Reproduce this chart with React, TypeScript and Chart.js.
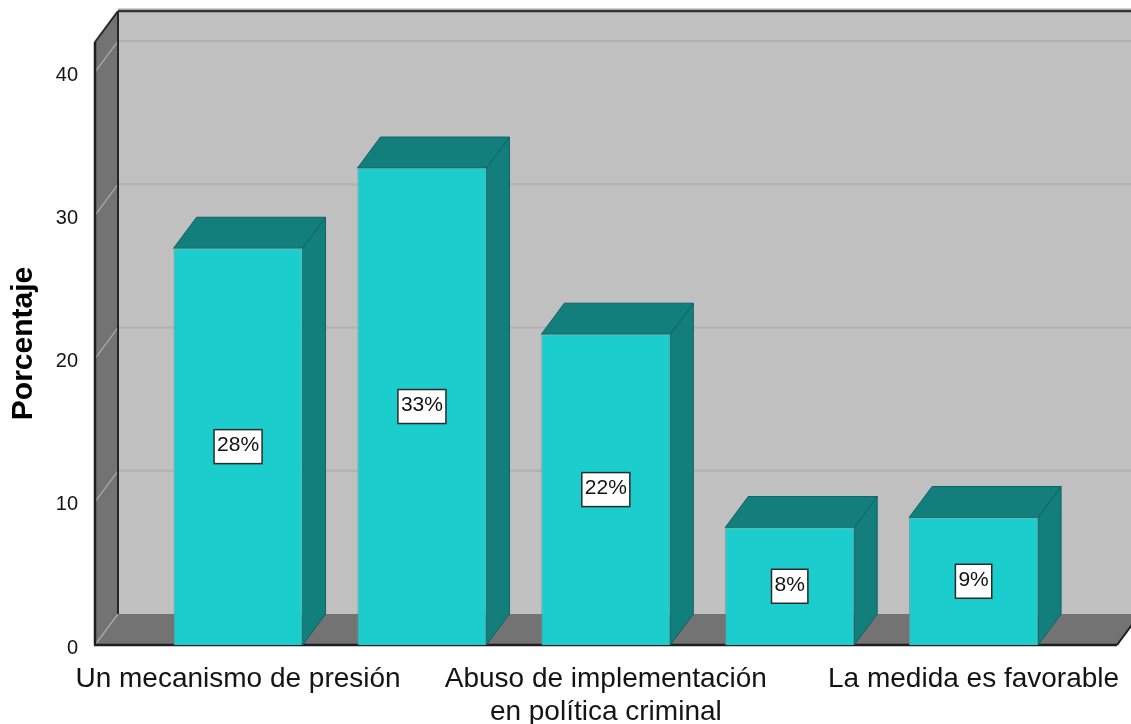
import React, { useEffect, useRef } from "react";
import { Chart, registerables } from "chart.js";

Chart.register(...registerables);

// ---- data ----
const categories: string[] = [
  "Un mecanismo de presión",
  "",
  "Abuso de implementación\nen política criminal",
  "",
  "La medida es favorable",
];
const percentages: number[] = [27.7, 33.3, 21.7, 8.2, 8.9];
const yTicks: number[] = [0, 10, 20, 30, 40];
const yAxisTitle = "Porcentaje";
const yMax = 42.1;
const xMin = -0.778;
const xMax = 4.78;

// ---- style ----
const FONT = "'Liberation Sans', Arial, Helvetica, sans-serif";
const DX = 23;
const DY = 31;
const FRONT = "#1ccdcd";
const DEPTH = "#127f7d";
const BACK = "#c0c0c0";
const WALL = "#737373";

function poly(ctx: CanvasRenderingContext2D, pts: number[][], fill?: string, stroke?: string, lw = 1) {
  ctx.beginPath();
  ctx.moveTo(pts[0][0], pts[0][1]);
  for (let i = 1; i < pts.length; i++) ctx.lineTo(pts[i][0], pts[i][1]);
  ctx.closePath();
  if (fill) {
    ctx.fillStyle = fill;
    ctx.fill();
  }
  if (stroke) {
    ctx.strokeStyle = stroke;
    ctx.lineWidth = lw;
    ctx.stroke();
  }
}

function line(ctx: CanvasRenderingContext2D, x1: number, y1: number, x2: number, y2: number, color: string, lw: number) {
  ctx.beginPath();
  ctx.moveTo(x1, y1);
  ctx.lineTo(x2, y2);
  ctx.strokeStyle = color;
  ctx.lineWidth = lw;
  ctx.stroke();
}

const threeD = {
  id: "threeD",
  beforeDatasetsDraw(chart: any) {
    const { ctx, chartArea: a } = chart;
    const ys = chart.scales.y;
    ctx.save();
    // back wall
    ctx.fillStyle = BACK;
    ctx.fillRect(a.left + DX, a.top - DY, a.right - a.left, a.bottom - a.top);
    yTicks.forEach((v) => {
      if (v === 0) return;
      const py = ys.getPixelForValue(v) - DY;
      line(ctx, a.left + DX, py, a.right + DX, py, "#b1b1b1", 2);
    });
    // left wall
    poly(ctx, [
      [a.left, a.top],
      [a.left + DX, a.top - DY],
      [a.left + DX, a.bottom - DY],
      [a.left, a.bottom],
    ], WALL);
    // floor
    poly(ctx, [
      [a.left, a.bottom],
      [a.left + DX, a.bottom - DY],
      [a.right + DX, a.bottom - DY],
      [a.right, a.bottom],
    ], WALL);
    // left wall grid diagonals
    yTicks.forEach((v) => {
      const py = ys.getPixelForValue(v);
      line(ctx, a.left, py, a.left + DX, py - DY, "#a9a9a9", 1.3);
    });
    // edges
    line(ctx, a.left + DX, a.top - DY - 2, a.right + DX + 5, a.top - DY - 2, "#a0a0a0", 1);
    line(ctx, a.left + DX, a.top - DY, a.right + DX + 5, a.top - DY, "#333333", 2.5);
    line(ctx, a.left + DX, a.top - DY, a.left + DX, a.bottom - DY, "#262626", 2);
    line(ctx, a.left, a.top, a.left + DX, a.top - DY, "#262626", 2);
    line(ctx, a.left, a.top, a.left, a.bottom, "#1e1e1e", 2.5);
    line(ctx, a.left - 1, a.bottom, a.right, a.bottom, "#1e1e1e", 2.5);
    line(ctx, a.right, a.bottom, a.right + DX, a.bottom - DY, "#1e1e1e", 2);

    // bar depth faces
    const meta = chart.getDatasetMeta(0);
    meta.data.forEach((bar: any) => {
      const { x, y, base, width } = bar.getProps(["x", "y", "base", "width"], true);
      const l = x - width / 2;
      const r = x + width / 2;
      poly(ctx, [
        [r, y],
        [r + DX, y - DY],
        [r + DX, base - DY],
        [r, base],
      ], DEPTH, "#0d6463", 1);
      poly(ctx, [
        [l, y],
        [l + DX, y - DY],
        [r + DX, y - DY],
        [r, y],
      ], DEPTH, "#0d6463", 1);
    });
    ctx.restore();
  },
  afterDatasetsDraw(chart: any) {
    const { ctx } = chart;
    const meta = chart.getDatasetMeta(0);
    ctx.save();
    ctx.font = `21px ${FONT}`;
    ctx.textAlign = "center";
    ctx.textBaseline = "middle";
    meta.data.forEach((bar: any, i: number) => {
      const { x, y, base } = bar.getProps(["x", "y", "base"], true);
      const cy = (y + base) / 2;
      const txt = `${Math.round(percentages[i])}%`;
      const w = ctx.measureText(txt).width + 6;
      const h = 34;
      ctx.fillStyle = "#ffffff";
      ctx.fillRect(x - w / 2, cy - h / 2, w, h);
      ctx.strokeStyle = "#2a2a2a";
      ctx.lineWidth = 1.5;
      ctx.strokeRect(x - w / 2, cy - h / 2, w, h);
      ctx.fillStyle = "#111111";
      ctx.fillText(txt, x, cy - 1);
    });
    ctx.restore();
  },
};

export default function App() {
  const ref = useRef<HTMLCanvasElement | null>(null);

  useEffect(() => {
    if (!ref.current) return;
    const chart = new Chart(ref.current, {
      type: "bar",
      data: {
        datasets: [
          {
            data: percentages.map((v, i) => ({ x: i, y: v })),
            backgroundColor: FRONT,
            borderColor: "#5d9e9e",
            borderWidth: 1,
            barPercentage: 0.7015,
            categoryPercentage: 1,
          },
        ],
      },
      options: {
        animation: false,
        responsive: true,
        maintainAspectRatio: false,
        devicePixelRatio: 1,
        layout: { padding: { top: 42, right: 14, left: 0, bottom: 0 } },
        plugins: {
          legend: { display: false },
          tooltip: { enabled: false },
        },
        scales: {
          x: {
            type: "linear",
            offset: false,
            min: xMin,
            max: xMax,
            grid: { display: false, offset: false },
            border: { display: false },
            afterBuildTicks: (s: any) => {
              s.ticks = categories.map((_, i) => ({ value: i }));
            },
            afterFit: (s: any) => {
              s.height = 79;
              s.paddingLeft = 0;
              s.paddingRight = 0;
            },
            ticks: {
              autoSkip: false,
              maxRotation: 0,
              minRotation: 0,
              padding: 9,
              color: "#141414",
              font: { family: FONT, size: 28 },
              callback: (v: any) => {
                const c = categories[Number(v)];
                return c ? c.split("\n") : "";
              },
            },
          },
          y: {
            min: 0,
            max: yMax,
            grid: { display: false },
            border: { display: false },
            afterBuildTicks: (s: any) => {
              s.ticks = yTicks.map((v) => ({ value: v }));
            },
            afterFit: (s: any) => {
              s.width = 95;
            },
            ticks: {
              padding: 9,
              labelOffset: 3,
              color: "#141414",
              font: { family: FONT, size: 20 },
            },
            title: {
              display: true,
              text: yAxisTitle,
              color: "#000000",
              font: { family: FONT, size: 30, weight: "bold" },
              padding: { top: 6, bottom: 0 },
            },
          },
        },
      } as any,
      plugins: [threeD],
    });
    return () => chart.destroy();
  }, []);

  return (
    <div style={{ position: "absolute", left: 0, top: 0, width: 1131, height: 724, background: "#ffffff" }}>
      <canvas ref={ref} style={{ display: "block" }} />
    </div>
  );
}
